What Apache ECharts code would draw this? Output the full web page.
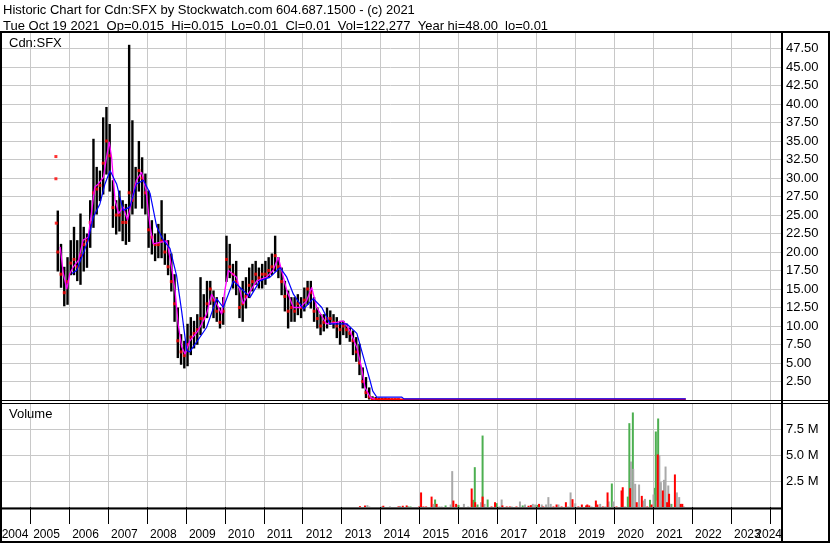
<!DOCTYPE html>
<html><head><meta charset="utf-8">
<script src="https://cdn.jsdelivr.net/npm/echarts@6/dist/echarts.min.js"></script>
<style>html,body{margin:0;padding:0;background:#fff}#c{width:830px;height:543px}</style>
</head><body><div id="c"></div>
<script>
// ---------- texts ----------
const headerLine1 = 'Historic Chart for Cdn:SFX by Stockwatch.com 604.687.1500 - (c) 2021';
const headerLine2 = 'Tue Oct 19 2021  Op=0.015  Hi=0.015  Lo=0.01  Cl=0.01  Vol=122,277  Year hi=48.00  lo=0.01';
const symbolLabel = 'Cdn:SFX';
const volumeLabel = 'Volume';
const yearLabels = ['2004','2005','2006','2007','2008','2009','2010','2011','2012','2013','2014','2015','2016','2017','2018','2019','2020','2021','2022','2023','2024'];

// ---------- monthly price bars ----------
const barMonths = [
'2005-09','2005-10','2005-11','2005-12',
'2006-01','2006-02','2006-03','2006-04','2006-05','2006-06','2006-07','2006-08','2006-09','2006-10','2006-11','2006-12',
'2007-01','2007-02','2007-03','2007-04','2007-05','2007-06','2007-07','2007-08','2007-09','2007-10','2007-11','2007-12',
'2008-01','2008-02','2008-03','2008-04','2008-05','2008-06','2008-07','2008-08','2008-09','2008-10','2008-11','2008-12',
'2009-01','2009-02','2009-03','2009-04','2009-05','2009-06','2009-07','2009-08','2009-09','2009-10','2009-11','2009-12',
'2010-01','2010-02','2010-03','2010-04','2010-05','2010-06','2010-07','2010-08','2010-09','2010-10','2010-11','2010-12',
'2011-01','2011-02','2011-03','2011-04','2011-05','2011-06','2011-07','2011-08','2011-09','2011-10','2011-11','2011-12',
'2012-01','2012-02','2012-03','2012-04','2012-05','2012-06','2012-07','2012-08','2012-09','2012-10','2012-11','2012-12',
'2013-01','2013-02','2013-03','2013-04','2013-05','2013-06','2013-07','2013-08','2013-09','2013-10','2013-11','2013-12',
'2014-01','2014-02','2014-03','2014-04','2014-05','2014-06'];
const barHigh = [
25.6,21.1,18.0,19.3,
21.6,23.4,21.6,25.2,23.4,22.5,27.0,35.3,31.5,31.0,38.2,39.6,
37.3,29.7,27.0,28.3,27.0,26.5,48.0,37.8,31.5,35.0,32.8,30.6,
28.3,24.3,22.5,23.8,27.0,22.5,21.6,19.8,17.0,12.5,8.9,8.0,
10.3,11.2,10.7,11.6,16.6,14.3,16.1,16.1,14.8,13.9,12.5,13.9,
22.2,21.1,18.4,18.8,15.2,16.1,16.6,17.9,18.4,18.8,17.9,18.4,
18.8,19.3,19.8,22.2,19.3,17.9,16.1,14.8,13.9,13.9,14.3,13.9,
15.2,16.1,16.1,13.9,12.5,11.6,11.6,12.5,12.1,11.6,11.2,10.7,
10.7,10.3,9.8,9.4,8.5,7.6,4.4,3.1,1.7,0.5,0.4,0.3,
0.3,0.3,0.25,0.2,0.2,0.2];
const barLow = [
17.5,15.3,12.8,13.0,
17.0,17.0,16.2,15.7,17.5,18.0,20.7,23.4,25.2,27.0,27.9,30.6,
28.3,23.4,22.5,22.9,21.6,21.1,21.5,25.2,26.0,28.3,26.0,25.2,
20.7,19.8,18.9,19.3,19.3,18.4,17.0,14.8,10.7,5.8,4.9,4.4,
4.7,6.2,7.1,7.6,8.9,9.8,11.2,13.0,11.2,10.7,9.8,10.3,
16.1,16.6,15.2,14.3,11.2,10.7,12.5,13.9,14.8,15.7,15.2,15.2,
15.7,16.6,17.0,17.5,16.6,14.3,12.1,9.8,10.7,10.7,11.6,11.2,
12.1,13.0,12.5,10.7,9.8,8.9,9.4,9.8,10.3,9.8,8.5,7.6,
8.9,8.5,8.0,6.2,5.3,3.5,1.7,0.4,0.2,0.05,0.05,0.03,
0.03,0.03,0.02,0.02,0.02,0.02];
const barClose = [
20,17,14.5,16,
18.5,19,18,19.5,21,21.5,24,28,28.5,29,32,35,
33,26,25,25,24,24,28,27,29,31,30,28,
23,22,21,21,21.5,20,18,16,13,8,6.5,6,
7.5,8.5,9,9.5,11,11,13,15,13.5,12,10.5,12,
19,18,17,16,12.5,13,14,15.5,16,17,16.5,17,
17,17.5,18,19.5,18,16,14,12,12.5,12,13,12.5,
13.5,15,14.5,12,11,10,10.5,11,11,10.5,10,9.5,
10,9.5,9,8,6.5,5,2.5,1,0.4,0.1,0.1,0.05,
0.05,0.05,0.05,0.05,0.05,0.05];
const isolatedDots = [[2005.66,32.9],[2005.66,29.9],[2005.67,23.9]];

// ---------- moving averages ----------
const shortMA = [[2005.77,20.7],[2005.85,17.1],[2005.94,15.0],[2006.02,17.1],[2006.11,18.0],[2006.24,18.9],[2006.36,21.6],[2006.49,22.0],[2006.58,25.6],[2006.66,28.8],[2006.75,29.2],[2006.88,30.1],[2006.96,32.8],[2007.03,34.9],[2007.09,32.8],[2007.18,27.0],[2007.27,25.2],[2007.39,26.1],[2007.50,24.3],[2007.61,27.0],[2007.73,29.7],[2007.86,30.8],[2007.97,28.5],[2008.08,23.4],[2008.16,21.1],[2008.33,21.3],[2008.51,21.5],[2008.63,18.0],[2008.72,14.8],[2008.80,10.3],[2008.89,7.2],[2008.98,6.2],[2009.10,8.0],[2009.32,9.4],[2009.53,11.6],[2009.66,14.3],[2009.79,13.0],[2009.92,11.6],[2010.00,14.8],[2010.09,17.5],[2010.30,16.6],[2010.47,13.0],[2010.60,14.3],[2010.82,16.1],[2011.07,16.6],[2011.24,17.5],[2011.37,19.3],[2011.59,14.8],[2011.76,12.5],[2011.93,12.5],[2012.10,13.4],[2012.23,15.2],[2012.36,12.5],[2012.61,10.3],[2012.87,10.5],[2013.04,10.7],[2013.21,9.4],[2013.39,7.1],[2013.51,4.4],[2013.60,1.7],[2013.73,0.4],[2013.85,0.1]];
const longMA = [[2006.07,17.1],[2006.19,17.5],[2006.36,19.8],[2006.49,21.6],[2006.62,24.7],[2006.79,26.5],[2006.92,29.2],[2007.05,31.0],[2007.22,29.2],[2007.39,25.6],[2007.56,26.1],[2007.73,29.2],[2007.91,29.7],[2008.08,27.9],[2008.25,23.4],[2008.42,21.6],[2008.59,20.5],[2008.76,16.8],[2008.89,12.0],[2009.02,6.7],[2009.10,6.5],[2009.53,9.8],[2009.79,13.7],[2009.96,12.5],[2010.22,16.1],[2010.39,15.2],[2010.65,13.9],[2010.90,16.1],[2011.16,16.6],[2011.42,17.9],[2011.59,16.6],[2011.76,14.3],[2012.02,12.3],[2012.27,13.7],[2012.49,12.5],[2012.70,10.3],[2013.13,10.3],[2013.39,9.0],[2013.56,5.8],[2013.73,2.6],[2013.80,1.2],[2013.90,0.4],[2014.54,0.4],[2014.60,0.15],[2021.84,0.15]];
const closeTail = [[2013.75,0.07],[2015.0,0.07],[2016.0,0.07],[2017.0,0.07],[2018.0,0.07],[2019.0,0.07],[2020.0,0.07],[2021.0,0.07],[2021.84,0.07]];

// ---------- volume (millions) ----------
const volGreen = [[2014.71,0.05],[2014.77,0.05],[2015.40,0.72],[2015.67,0.15],[2016.00,0.2],[2016.38,0.69],[2016.42,3.83],[2016.49,0.24],[2016.62,6.87],[2016.75,0.72],[2016.98,0.37],[2017.65,0.15],[2018.03,0.2],[2019.94,2.26],[2020.35,1.0],[2020.39,8.06],[2020.48,9.09],[2020.92,0.69],[2021.05,1.84],[2021.07,7.26],[2021.13,8.51],[2021.47,0.3]];
const volGray = [[2013.66,0.18],[2013.71,0.05],[2014.03,0.06],[2014.24,0.06],[2014.50,0.1],[2015.36,0.3],[2015.51,0.05],[2015.57,0.05],[2015.80,0.24],[2015.84,3.45],[2016.14,0.3],[2016.25,0.05],[2016.58,0.46],[2016.67,0.3],[2017.05,0.05],[2017.11,0.72],[2017.37,0.05],[2017.58,0.53],[2017.71,0.24],[2017.91,0.3],[2017.97,0.24],[2018.14,0.24],[2018.25,0.24],[2018.31,0.95],[2018.37,0.3],[2018.57,0.24],[2018.82,0.05],[2018.88,1.4],[2019.00,0.35],[2019.42,0.05],[2019.64,0.3],[2019.77,0.05],[2019.86,0.53],[2019.98,0.53],[2020.28,0.05],[2020.43,4.37],[2020.49,3.67],[2020.54,2.23],[2020.64,2.16],[2020.75,0.62],[2020.79,0.78],[2021.01,1.2],[2021.10,0.62],[2021.16,4.95],[2021.20,2.39],[2021.23,0.62],[2021.28,2.61],[2021.32,3.89],[2021.39,2.07],[2021.44,0.3],[2021.61,1.4],[2021.67,0.95],[2021.79,0.05]];
const volRed = [[2013.47,0.08],[2013.60,0.14],[2014.07,0.12],[2014.46,0.06],[2014.57,0.12],[2014.67,0.15],[2014.99,0.05],[2015.04,1.4],[2015.10,0.05],[2015.17,0.05],[2015.31,1.0],[2015.44,0.3],[2015.87,0.62],[2015.94,0.3],[2016.34,1.78],[2016.43,0.46],[2016.62,1.0],[2016.85,0.05],[2016.94,0.46],[2017.13,0.15],[2017.24,0.05],[2017.32,0.05],[2017.49,0.05],[2017.80,0.12],[2017.86,0.18],[2018.07,0.3],[2018.18,0.05],[2018.44,0.05],[2018.52,0.24],[2018.65,0.05],[2018.76,0.46],[2018.93,0.75],[2019.08,0.05],[2019.17,0.24],[2019.28,0.15],[2019.31,0.24],[2019.36,0.15],[2019.53,0.62],[2019.57,0.24],[2019.71,0.05],[2019.83,1.4],[2020.06,0.05],[2020.19,1.59],[2020.22,1.9],[2020.41,1.81],[2020.58,0.46],[2020.71,1.07],[2020.85,0.05],[2020.96,0.24],[2021.12,5.05],[2021.25,1.59],[2021.36,0.46],[2021.41,1.27],[2021.56,3.13],[2021.71,0.3],[2021.75,0.3]];

// ---------- build ----------
function monthToYear(m) { const [y, mo] = m.split('-').map(Number); return y + (mo - 0.5) / 12; }
const barData = barMonths.map((m, i) => [monthToYear(m), barHigh[i], barLow[i]]);
const closeData = barMonths.map((m, i) => [monthToYear(m), barClose[i]]).concat(isolatedDots);

const FONT = '"Liberation Sans", Arial, sans-serif';
const GRID = '#c8c8c8';
const XMIN = 2004, XMAX = 2024.311, GL = -8.73;

const chart = echarts.init(document.getElementById('c'), null, {renderer: 'canvas'});
const xBase = (gi) => ({
  type: 'value', gridIndex: gi, min: XMIN, max: XMAX, interval: 1,
  axisLine: {show: false}, axisTick: {show: false}, axisLabel: {show: false},
  splitLine: {show: true, lineStyle: {color: GRID, width: 1}}
});
const option = {
  animation: false,
  backgroundColor: '#fff',
  grid: [
    {left: GL, right: 48, top: 32, height: 368, outerBoundsMode: 'none', containLabel: false},
    {left: GL, right: 48, top: 403, height: 104, outerBoundsMode: 'none', containLabel: false},
    {left: GL, right: 48, top: 525, height: 17, outerBoundsMode: 'none', containLabel: false}
  ],
  xAxis: [
    xBase(0),
    Object.assign(xBase(1), {
      axisTick: {show: true, length: 17, lineStyle: {color: '#000', width: 1}}
    }),
    {
      type: 'value', gridIndex: 2, min: XMIN, max: XMAX, interval: 1, position: 'top',
      axisLine: {show: true, lineStyle: {color: '#000', width: 2}},
      axisTick: {show: true, inside: true, length: 17, lineStyle: {color: '#000', width: 1}},
      splitLine: {show: false},
      axisLabel: {
        show: true, inside: true, margin: 4, align: 'left', verticalAlign: 'top',
        alignMaxLabel: 'right', showMaxLabel: true,
        color: '#000', fontFamily: '"Liberation Sans Narrow", "Arial Narrow", sans-serif', fontSize: 12,
        formatter: (v) => {
          if (v > 2024.2) return '{l|' + yearLabels[yearLabels.length - 1] + '}';
          const i = Math.round(v - XMIN);
          if (i === yearLabels.length - 1) return '';
          const s = yearLabels[i];
          if (s === undefined) return '';
          if (i === 0) return '{f|' + s + '}';
          return '{n|' + s + '}';
        },
        rich: {
          n: {padding: [0, 0, 0, 3]},
          f: {padding: [0, 0, 0, 10.4]},
          l: {padding: [0, 0, 0, 0]}
        }
      }
    }
  ],
  yAxis: [
    {
      type: 'value', gridIndex: 0, position: 'right', min: 0, max: 49.73, interval: 2.5,
      axisLine: {show: false}, axisTick: {show: false},
      splitLine: {show: true, lineStyle: {color: GRID, width: 1}},
      axisLabel: {margin: 4, color: '#000', fontFamily: FONT, fontSize: 13,
        formatter: (v) => (v > 0.1 && v < 49) ? v.toFixed(2) : ''}
    },
    {
      type: 'value', gridIndex: 1, position: 'right', min: 0, max: 10, interval: 2.5,
      axisLine: {show: false}, axisTick: {show: false},
      splitLine: {show: true, lineStyle: {color: GRID, width: 1}},
      axisLabel: {margin: 4, color: '#000', fontFamily: FONT, fontSize: 13,
        formatter: (v) => (v > 0.1 && v < 9.9) ? v.toFixed(1) + ' M' : ''}
    },
    {type: 'value', gridIndex: 2, show: false, min: 0, max: 1}
  ],
  series: [
    {
      type: 'custom', xAxisIndex: 0, yAxisIndex: 0, data: barData, clip: true,
      encode: {x: 0, y: [1, 2]},
      renderItem: (params, api) => {
        const p1 = api.coord([api.value(0), api.value(1)]);
        const p2 = api.coord([api.value(0), api.value(2)]);
        return {type: 'line', shape: {x1: p1[0], y1: p1[1], x2: p2[0], y2: p2[1] + 1},
          style: {stroke: '#000', lineWidth: 2.4}};
      }
    },
    {type: 'scatter', xAxisIndex: 0, yAxisIndex: 0, data: closeData, symbol: 'rect', symbolSize: 3,
      itemStyle: {color: '#ff0000'}, z: 3},
    {type: 'line', xAxisIndex: 0, yAxisIndex: 0, data: closeTail, showSymbol: false,
      lineStyle: {color: '#ff0000', width: 2}, z: 3},
    {type: 'line', xAxisIndex: 0, yAxisIndex: 0, data: shortMA, showSymbol: false,
      lineStyle: {color: '#ff00ff', width: 1.3}, z: 4},
    {type: 'line', xAxisIndex: 0, yAxisIndex: 0, data: longMA, showSymbol: false,
      lineStyle: {color: '#0000ff', width: 1.2}, z: 5},
    {type: 'bar', xAxisIndex: 1, yAxisIndex: 1, data: volGreen, barWidth: 2, barGap: '-100%',
      itemStyle: {color: '#4caf50'}},
    {type: 'bar', xAxisIndex: 1, yAxisIndex: 1, data: volGray, barWidth: 2, barGap: '-100%',
      itemStyle: {color: '#a9a9a9'}},
    {type: 'bar', xAxisIndex: 1, yAxisIndex: 1, data: volRed, barWidth: 2, barGap: '-100%',
      itemStyle: {color: '#ff0000'}}
  ],
  graphic: [
    {type: 'text', x: 3, y: 4, z: 10, style: {text: headerLine1, font: '13px ' + FONT, fill: '#000', verticalAlign: 'top'}},
    {type: 'text', x: 3, y: 20, z: 10, style: {text: headerLine2, font: '13px ' + FONT, fill: '#000', verticalAlign: 'top'}},
    {type: 'text', x: 9, y: 37, z: 10, style: {text: symbolLabel, font: '13px ' + FONT, fill: '#000', verticalAlign: 'top'}},
    {type: 'text', x: 9, y: 408, z: 10, style: {text: volumeLabel, font: '13px ' + FONT, fill: '#000', verticalAlign: 'top'}},
    {type: 'line', z: 20, shape: {x1: 0, y1: 32, x2: 830, y2: 32}, style: {stroke: '#000', lineWidth: 2}},
    {type: 'line', z: 20, shape: {x1: 1, y1: 32, x2: 1, y2: 543}, style: {stroke: '#000', lineWidth: 2}},
    {type: 'line', z: 20, shape: {x1: 829, y1: 32, x2: 829, y2: 543}, style: {stroke: '#000', lineWidth: 2}},
    {type: 'line', z: 20, shape: {x1: 0, y1: 542, x2: 830, y2: 542}, style: {stroke: '#000', lineWidth: 2}},
    {type: 'line', z: 20, shape: {x1: 782, y1: 32, x2: 782, y2: 543}, style: {stroke: '#000', lineWidth: 2}},
    {type: 'line', z: 20, shape: {x1: 0, y1: 400.5, x2: 830, y2: 400.5}, style: {stroke: '#000', lineWidth: 1}},
    {type: 'line', z: 20, shape: {x1: 0, y1: 403.5, x2: 830, y2: 403.5}, style: {stroke: '#000', lineWidth: 1}},
    {type: 'line', z: 20, shape: {x1: 0, y1: 508.5, x2: 782, y2: 508.5}, style: {stroke: '#000', lineWidth: 2}}
  ]
};
chart.setOption(option);
</script></body></html>
